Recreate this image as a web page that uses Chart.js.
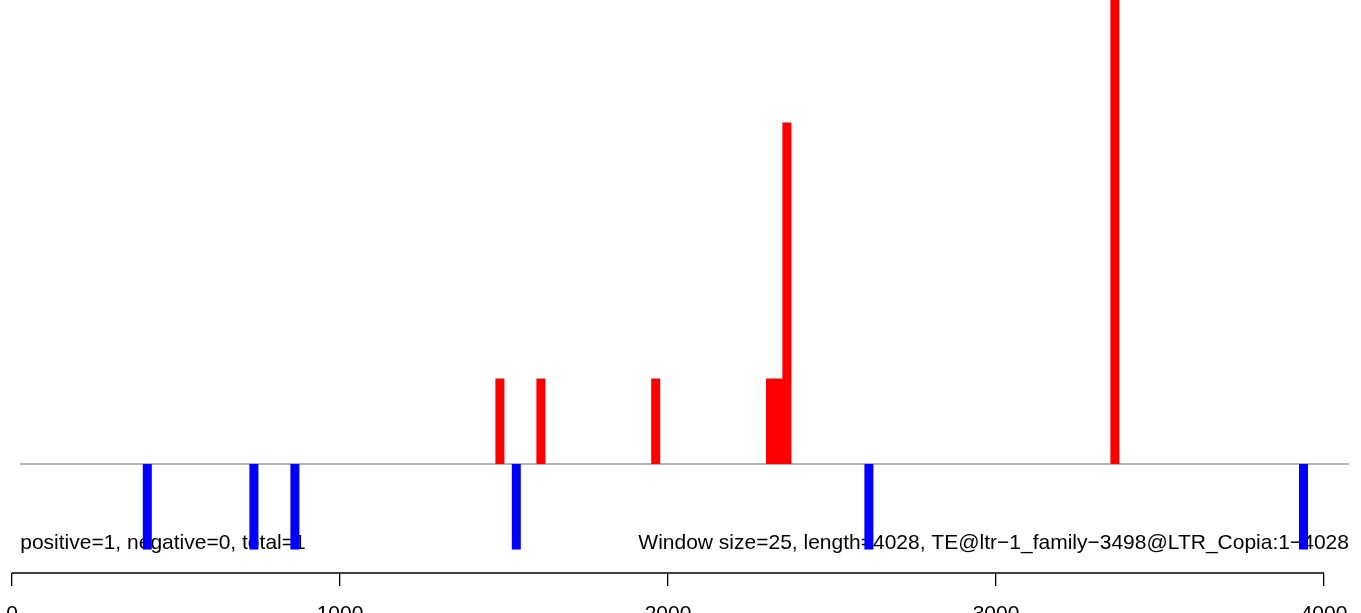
<!DOCTYPE html>
<html>
<head>
<meta charset="utf-8">
<script src="https://cdn.jsdelivr.net/npm/chart.js@4.4.0/dist/chart.umd.min.js"></script>
<style>
  html, body { margin: 0; padding: 0; background: #ffffff; overflow: hidden; }
  #wrap { width: 1361px; height: 613px; overflow: hidden; }
  canvas { display: block; }
</style>
</head>
<body>
<div id="wrap"><canvas id="c" width="1361" height="646"></canvas></div>
<script>
// ---- data ----
const windowSize = 25;
const seqLength = 4028;
const posStarts = [1475, 1600, 1950, 2300, 2325, 2350, 3350];
const posValues = [1, 1, 1, 1, 1, 4, 6];
const negStarts = [400, 725, 850, 1525, 2600, 3925];
const negValues = [-1, -1, -1, -1, -1, -1];
const xTicks = [0, 1000, 2000, 3000, 4000];
const leftLabel = 'positive=1, negative=0, total=1';
const rightLabel = 'Window size=25, length=4028, TE@ltr\u22121_family\u22123498@LTR_Copia:1\u22124028';

// ---- view ranges ----
const xRange = [-36.6, 4112.8];
const yRange = [-1.276, 5.433];
const baselineRange = [25, 4076];
const textY = -1;

const FONT = "'Liberation Sans', Arial, Helvetica, sans-serif";

const toPoints = (starts, vals) => starts.map((s, i) => ({ x: s + windowSize / 2, y: vals[i] }));

const overlay = {
  id: 'overlay',
  beforeDatasetsDraw(chart) {
    const { ctx, scales: { x, y } } = chart;
    ctx.save();
    // zero line
    ctx.strokeStyle = '#9a9a9a';
    ctx.lineWidth = 1.5;
    ctx.beginPath();
    ctx.moveTo(x.getPixelForValue(baselineRange[0]), y.getPixelForValue(0));
    ctx.lineTo(x.getPixelForValue(baselineRange[1]), y.getPixelForValue(0));
    ctx.stroke();
    // annotations
    ctx.fillStyle = '#000000';
    ctx.font = '21px ' + FONT;
    ctx.textBaseline = 'alphabetic';
    ctx.textAlign = 'left';
    ctx.fillText(leftLabel, x.getPixelForValue(baselineRange[0]), y.getPixelForValue(textY));
    ctx.textAlign = 'right';
    ctx.fillText(rightLabel, x.getPixelForValue(baselineRange[1]), y.getPixelForValue(textY));
    ctx.restore();
  },
  afterDraw(chart) {
    const { ctx, scales: { x }, chartArea } = chart;
    ctx.save();
    ctx.strokeStyle = '#000000';
    ctx.lineWidth = 1.3;
    ctx.beginPath();
    ctx.moveTo(x.getPixelForValue(xTicks[0]), chartArea.bottom);
    ctx.lineTo(x.getPixelForValue(xTicks[xTicks.length - 1]), chartArea.bottom);
    ctx.stroke();
    ctx.restore();
  }
};

new Chart(document.getElementById('c'), {
  type: 'bar',
  data: {
    datasets: [
      { label: 'positive', data: toPoints(posStarts, posValues), backgroundColor: '#ff0000', grouped: false },
      { label: 'negative', data: toPoints(negStarts, negValues), backgroundColor: '#0000ff', grouped: false }
    ]
  },
  options: {
    responsive: false,
    animation: false,
    devicePixelRatio: 1,
    layout: { padding: { left: 0, right: 0, top: 0, bottom: 3.3 } },
    plugins: { legend: { display: false }, tooltip: { enabled: false } },
    datasets: { bar: { barPercentage: 1.1, categoryPercentage: 1, borderWidth: 0 } },
    scales: {
      x: {
        type: 'linear',
        min: xRange[0],
        max: xRange[1],
        offset: false,
        afterBuildTicks: axis => { axis.ticks = xTicks.map(v => ({ value: v })); },
        border: { display: false },
        grid: { display: true, offset: false, drawOnChartArea: false, drawTicks: true, tickLength: 13, color: '#000000', lineWidth: 1.3 },
        ticks: { color: '#000000', font: { family: FONT, size: 21, lineHeight: 2.7 }, padding: 0, maxRotation: 0, autoSkip: false, callback: v => String(v) }
      },
      y: {
        display: false,
        min: yRange[0],
        max: yRange[1]
      }
    }
  },
  plugins: [overlay]
});
</script>
</body>
</html>
